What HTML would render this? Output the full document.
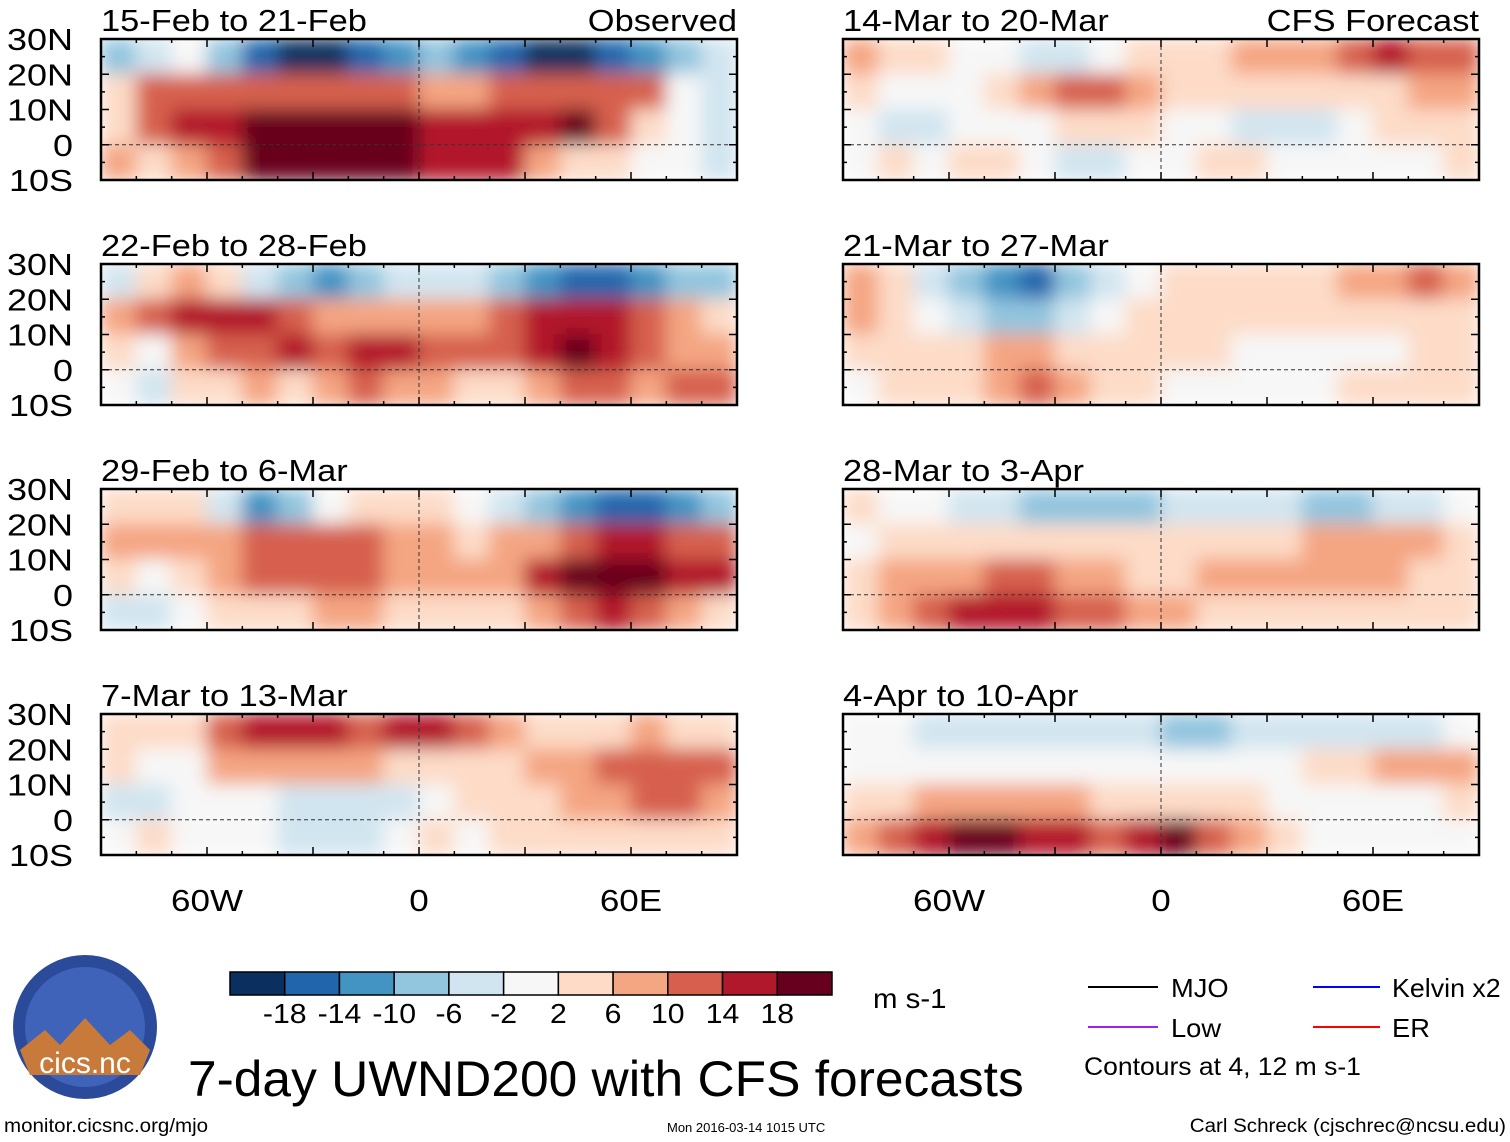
<!DOCTYPE html>
<html><head><meta charset="utf-8">
<style>
body{margin:0;background:#fff;}
svg text{font-family:"Liberation Sans",sans-serif;fill:#000;}
</style></head>
<body>
<svg id="chart" width="1510" height="1142" viewBox="0 0 1510 1142" xmlns="http://www.w3.org/2000/svg" style="position:absolute;left:0;top:0">
<defs>
<filter id="blur" x="-5%" y="-20%" width="110%" height="140%"><feGaussianBlur stdDeviation="9" edgeMode="duplicate"/></filter>
</defs>
<g id="panels"></g>
<g id="legend"></g>
<g><text data-sx="1.05" x="873" y="1008" font-size="28">m s-1</text></g>
<g><line x1="1088" x2="1158" y1="987" y2="987" stroke="#000" stroke-width="2"/><text data-sx="1.05" x="1171" y="997" font-size="26">MJO</text></g>
<g><line x1="1313" x2="1380" y1="987" y2="987" stroke="#0000ff" stroke-width="2"/><text data-sx="1.03" x="1392" y="997" font-size="26">Kelvin x2</text></g>
<g><line x1="1088" x2="1158" y1="1027" y2="1027" stroke="#a020f0" stroke-width="2"/><text data-sx="1.05" x="1171" y="1037" font-size="26">Low</text></g>
<g><line x1="1313" x2="1380" y1="1027" y2="1027" stroke="#ff0000" stroke-width="2"/><text data-sx="1.05" x="1392" y="1037" font-size="26">ER</text></g>
<text data-sx="1.06" x="1084" y="1075" font-size="25">Contours at 4, 12 m s-1</text>
<text data-sx="1.03" x="188" y="1096" font-size="50">7-day UWND200 with CFS forecasts</text>
<g><circle cx="85" cy="1027" r="72" fill="#2b4a9a"/><circle cx="85" cy="1027" r="60" fill="#3e63b8"/><path d="M20 1050 L45 1030 L60 1045 L85 1018 L110 1045 L130 1030 L150 1050 L140 1075 L30 1075 Z" fill="#c87a3a"/><text x="85" y="1073" font-size="30" text-anchor="middle" style="fill:#fff">cics.nc</text></g>
<text data-sx="1.08" x="4" y="1132" font-size="19">monitor.cicsnc.org/mjo</text>
<text x="667" y="1132" font-size="13">Mon 2016-03-14 1015 UTC</text>
<text data-sx="1.08" x="1506" y="1132" font-size="19" text-anchor="end">Carl Schreck (cjschrec@ncsu.edu)</text>
</svg>
<script>
const lonCenters=[-85,-75,-65,-55,-45,-35,-25,-15,-5,5,15,25,35,45,55,65,75,85];
const latBands=[25,15,5,-5];
const panelTitles=["15-Feb to 21-Feb","14-Mar to 20-Mar","22-Feb to 28-Feb","21-Mar to 27-Mar","29-Feb to 6-Mar","28-Mar to 3-Apr","7-Mar to 13-Mar","4-Apr to 10-Apr"];
const p1=[[-6,-2,2,-6,-14,-18,-18,-14,-10,-6,-10,-14,-18,-18,-14,-10,-6,-2],[6,12,14,14,14,12,12,12,12,10,10,12,14,14,14,12,2,-2],[4,12,16,18,20,20,20,20,20,18,16,16,18,20,12,6,2,-2],[8,4,8,14,20,20,20,20,20,16,18,16,10,6,4,2,0,-2]];
const p2=[[-2,4,8,4,-2,-6,-10,-6,-2,-2,-2,-6,-10,-14,-14,-10,-6,-6],[8,12,16,18,16,12,8,8,10,8,10,12,16,18,18,14,8,6],[4,2,8,12,12,16,14,16,18,14,12,14,18,20,18,14,10,8],[2,-2,4,6,8,6,10,14,10,8,6,6,10,12,14,10,12,12]];
const p3=[[4,6,6,-2,-10,-6,0,4,6,4,2,-2,-6,-10,-14,-14,-10,-6],[8,8,10,10,12,12,14,12,10,10,6,8,10,14,16,16,14,12],[4,2,6,8,12,14,14,12,10,10,8,10,16,20,20,20,18,16],[-2,-2,2,4,6,6,8,8,6,4,6,6,10,14,16,14,8,4]];
const p4=[[6,4,6,14,16,18,16,14,18,18,14,10,6,4,6,8,6,4],[4,2,2,8,10,10,10,8,6,4,4,6,8,10,12,14,14,12],[-2,-2,2,2,0,-2,-2,-4,-2,0,4,6,6,8,10,14,12,8],[2,4,2,2,0,-2,-4,-2,0,4,2,4,6,6,6,6,6,4]];
const p5=[[8,6,4,2,2,-2,-2,0,4,6,6,8,8,10,14,16,14,12],[4,2,2,2,4,8,12,14,10,6,6,6,4,4,4,6,8,10],[2,-2,-2,0,2,2,4,4,4,2,0,-2,-4,-2,2,4,4,6],[2,4,2,4,6,2,-4,-2,0,2,4,4,2,2,2,2,2,4]];
const p6=[[8,4,-2,-6,-10,-14,-6,-2,2,4,6,6,6,6,8,10,12,10],[10,4,2,-2,-6,-6,-2,2,4,4,4,6,6,6,6,6,6,6],[4,4,6,6,8,10,6,4,4,4,4,2,2,2,2,2,4,6],[2,4,4,6,10,14,10,6,4,2,2,2,2,2,4,6,6,4]];
const p7=[[4,2,0,-2,-4,-6,-6,-6,-6,-4,-4,-4,-4,-6,-6,-4,-2,2],[2,4,4,4,4,4,4,4,4,4,6,6,6,8,10,10,8,6],[6,8,10,10,12,12,10,8,6,6,8,8,8,8,8,8,6,6],[4,10,14,16,16,16,14,14,10,8,4,4,4,4,4,4,4,4]];
const p8=[[2,0,-2,-2,-4,-4,-4,-4,-4,-6,-6,-4,-4,-4,-4,-4,-2,2],[2,2,2,2,2,2,2,2,0,0,2,2,2,4,6,8,10,10],[4,6,8,10,10,8,8,6,6,6,4,4,2,2,2,2,2,4],[8,14,18,20,20,18,16,14,16,20,14,8,4,2,2,2,2,2]];
const panelData=[p1,p5,p2,p6,p3,p7,p4,p8];
const levels=[-18,-14,-10,-6,-2,2,6,10,14,18];
const colors=["#0b305f","#2166ac","#4393c3","#92c5de","#d1e5f0","#f7f7f7","#fddbc7","#f4a582","#d6604d","#b2182b","#67001f"];
const latTicks=["30N","20N","10N","0","10S"];
const lonTickVals=[-60,0,60];
const lonTickLabels=["60W","0","60E"];

const NS="http://www.w3.org/2000/svg";
function mk(tag,attrs,parent){const e=document.createElementNS(NS,tag);for(const k in attrs)e.setAttribute(k,attrs[k]);if(parent)parent.appendChild(e);return e;}
function colorOf(v){let i=0;while(i<levels.length&&v>levels[i])i++;return colors[i];}
const PW=636,PH=141;
const colX=[101,843], rowY=[39,264,489,714];
function xS(px,lon){return px+(lon+90)/180*PW;}
function yS(py,lat){return py+(30-lat)/40*PH;}
const root=document.getElementById('panels');
panelData.forEach((data,pi)=>{
  const px=colX[pi%2], py=rowY[Math.floor(pi/2)];
  const g=mk('g',{},root);
  
  
  const cid='clip'+pi;
  const cp=mk('clipPath',{id:cid},g);
  mk('rect',{x:px,y:py,width:PW,height:PH},cp);
  const cg=mk('g',{'clip-path':'url(#'+cid+')'},g);
  const hg=mk('g',{filter:'url(#blur)'},cg);
  data.forEach((row,ri)=>{
    row.forEach((v,ci)=>{
      const x0=xS(px,lonCenters[ci]-5), y0=yS(py,latBands[ri]+5);
      const r=mk('rect',{x:x0-0.5,y:y0-0.5,width:PW/18+1,height:PH/4+1,fill:colorOf(v)},hg);
      
      
    });
  });
  mk('line',{x1:px,x2:px+PW,y1:yS(py,0),y2:yS(py,0),stroke:'#333','stroke-width':1,'stroke-dasharray':'4,3'},g);
  mk('line',{x1:xS(px,0),x2:xS(px,0),y1:py,y2:py+PH,stroke:'#333','stroke-width':1,'stroke-dasharray':'4,3'},g);
  mk('rect',{x:px,y:py,width:PW,height:PH,fill:'none',stroke:'#000','stroke-width':2.5},g);
  for(let lon=-90;lon<=90;lon+=10){const x=xS(px,lon);const big=lon%30===0?8:4;
    mk('line',{x1:x,x2:x,y1:py,y2:py+big,stroke:'#000','stroke-width':1.5},g);
    mk('line',{x1:x,x2:x,y1:py+PH,y2:py+PH-big,stroke:'#000','stroke-width':1.5},g);}
  for(let lat=-10;lat<=30;lat+=5){const y=yS(py,lat);const big=lat%10===0?8:4;
    mk('line',{x1:px,x2:px+big,y1:y,y2:y,stroke:'#000','stroke-width':1.5},g);
    mk('line',{x1:px+PW,x2:px+PW-big,y1:y,y2:y,stroke:'#000','stroke-width':1.5},g);}
  const t=mk('text',{x:px,y:py-8,'font-size':31,'data-sx':'1.11'},g);t.textContent=panelTitles[pi];
  
  
  if(pi%2===0){latTicks.forEach((lab,i)=>{const tt=mk('text',{x:73,y:py+i*35.25+11,'font-size':31,'text-anchor':'end','data-sx':'1.16'},g);tt.textContent=lab;
    
    });}
});
const hdr1=mk('text',{x:737,y:31,'font-size':31,'text-anchor':'end','data-sx':'1.11'},root);hdr1.textContent='Observed';


const hdr2=mk('text',{x:1479,y:31,'font-size':31,'text-anchor':'end','data-sx':'1.11'},root);hdr2.textContent='CFS Forecast';


colX.forEach(px=>{lonTickVals.forEach((v,i)=>{const t=mk('text',{x:xS(px,v),y:911,'font-size':31,'text-anchor':'middle','data-sx':'1.13'},root);t.textContent=lonTickLabels[i];
  
  });});

const lg=document.getElementById('legend');
const cbX=230,cbW=602,cbY=972,cbH=23,bw=cbW/colors.length;
colors.forEach((c,i)=>{const r=mk('rect',{x:cbX+i*bw,y:cbY,width:bw,height:cbH,fill:c,stroke:'#000','stroke-width':1.5},lg);
  
  });
levels.forEach((l,i)=>{const t=mk('text',{x:cbX+(i+1)*bw,y:1023,'font-size':28,'text-anchor':'middle','data-sx':'1.08'},lg);t.textContent=l;
  
  });

document.querySelectorAll('text[data-sx]').forEach(t=>{
  const w=t.getComputedTextLength();
  t.setAttribute('textLength',(w*parseFloat(t.getAttribute('data-sx'))).toFixed(1));
  t.setAttribute('lengthAdjust','spacingAndGlyphs');
});
</script>
</body></html>
